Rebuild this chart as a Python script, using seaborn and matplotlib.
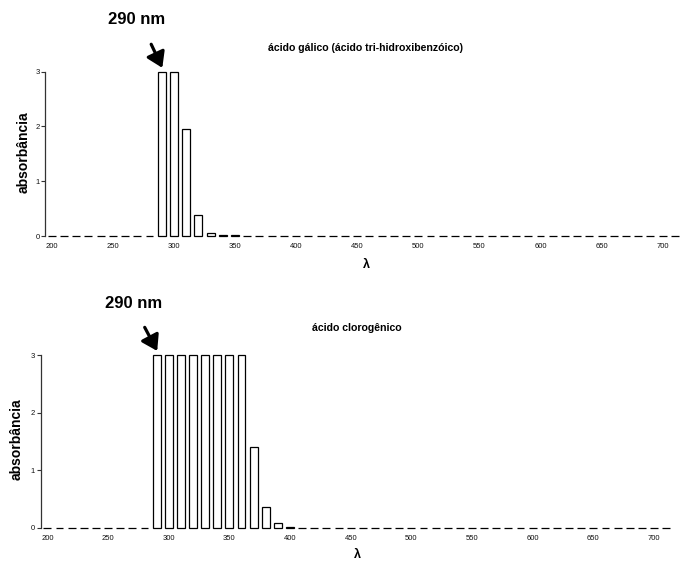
import matplotlib
matplotlib.use("Agg")
import matplotlib.pyplot as plt
import seaborn as sns
import pandas as pd

# ---- data ----
wavelengths = list(range(200, 711, 10))
gallic_peak = {290: 3.0, 300: 3.0, 310: 1.95, 320: 0.38, 330: 0.05, 340: 0.01, 350: 0.01}
chlorogenic_peak = {290: 3.0, 300: 3.0, 310: 3.0, 320: 3.0, 330: 3.0, 340: 3.0,
                    350: 3.0, 360: 3.0, 370: 1.4, 380: 0.37, 390: 0.08, 400: 0.02}
gallic_abs = [gallic_peak.get(w, 0.0) for w in wavelengths]
chlorogenic_abs = [chlorogenic_peak.get(w, 0.0) for w in wavelengths]
x_ticks = [200, 250, 300, 350, 400, 450, 500, 550, 600, 650, 700]
y_ticks = [0, 1, 2, 3]
titles = ["ácido gálico (ácido tri-hidroxibenzóico)", "ácido clorogênico"]
peak_label = "290 nm"

sns.set_theme(style="white")
plt.rcParams['font.family'] = ['Liberation Sans', 'DejaVu Sans']
plt.rcParams['text.color'] = 'black'
plt.rcParams['axes.labelcolor'] = 'black'

W, H = 681, 563
fig = plt.figure(figsize=(W / 100, H / 100), dpi=100)

def fx(px):
    return px / W

def fy(py):
    return 1 - py / H

# axes positions in pixels: left, right, top(y=3), bottom(y=0)
panels = [
    dict(vals=gallic_abs, l=45, r=681, t=71.7, b=236, xlim=(194.5, 715),
         title=titles[0], title_xy=(366, 48), peak_xy=(137, 19),
         arrow_off=(-8.0, 17.0), ylab_x=24, xlab_x=366, xlab_y=265),
    dict(vals=chlorogenic_abs, l=40.5, r=674, t=355, b=528, xlim=(194.3, 716.5),
         title=titles[1], title_xy=(357, 328), peak_xy=(134, 303),
         arrow_off=(-9.0, 17.0), ylab_x=17, xlab_x=357, xlab_y=555),
]

for p in panels:
    ax = fig.add_axes([fx(p['l']), fy(p['b']), fx(p['r'] - p['l']), (p['b'] - p['t']) / H])
    df = pd.DataFrame({"lambda": wavelengths, "abs": p['vals']})
    sns.barplot(data=df, x="lambda", y="abs", native_scale=True, width=0.65,
                color="white", saturation=1, edgecolor="black", linewidth=0.9,
                errorbar=None, ax=ax)
    for patch in ax.patches:
        patch.set_clip_on(False)
    ax.set_xlim(*p['xlim'])
    ax.set_ylim(0, 3)
    ax.set_xticks(x_ticks)
    ax.set_xticklabels([str(t) for t in x_ticks], fontsize=5.5, color="#111111")
    ax.set_yticks(y_ticks)
    ax.set_yticklabels([str(t) for t in y_ticks], fontsize=5.5, color="#111111")
    ax.tick_params(axis='x', length=0, pad=5)
    ax.tick_params(axis='y', length=3, width=0.8, color="#333333", pad=1, left=True)
    for s in ['top', 'right', 'bottom']:
        ax.spines[s].set_visible(False)
    ax.spines['left'].set_color("#333333")
    ax.spines['left'].set_linewidth(0.9)
    ax.set_xlabel("")
    ax.set_ylabel("")
    ax.set_facecolor("white")
    fig.text(fx(p['ylab_x']), fy((p['t'] + p['b']) / 2 - 2), "absorbância", rotation=90,
             ha='center', va='center', fontsize=10, fontweight='bold')
    fig.text(fx(p['xlab_x']), fy(p['xlab_y']), "λ",
             ha='center', va='center', fontsize=9, fontweight='bold')
    fig.text(fx(p['title_xy'][0]), fy(p['title_xy'][1]), p['title'],
             ha='center', va='center', fontsize=7.6, fontweight='bold')
    fig.text(fx(p['peak_xy'][0]), fy(p['peak_xy'][1]), peak_label,
             ha='center', va='center', fontsize=12, fontweight='bold')
    ax.annotate("", xy=(290.5, 3.07), xycoords='data',
                xytext=p['arrow_off'], textcoords='offset points',
                arrowprops=dict(arrowstyle='-|>,head_length=0.65,head_width=0.42',
                                mutation_scale=14, lw=2.3, color='black',
                                shrinkA=0, shrinkB=0),
                annotation_clip=False)

fig.savefig("out.png", dpi=100, facecolor="white")
